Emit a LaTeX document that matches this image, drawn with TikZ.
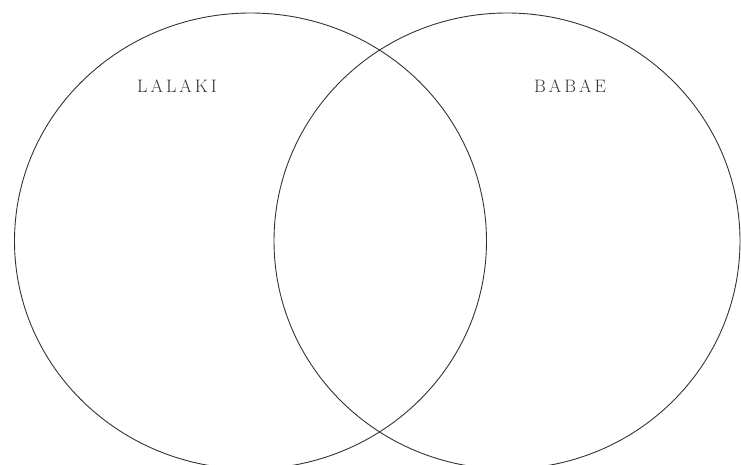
\documentclass[tikz,border=0pt]{standalone}
\usepackage{tikz}
\usetikzlibrary{shapes.geometric, positioning}
\tikzset{
  setshape/.style = {ellipse, draw=black!80, line width=0.9pt, inner sep=0pt,
    minimum width=472pt, minimum height=456pt},
  setlabel/.style = {font=\fontsize{18}{20}\selectfont, text=black!80, inner sep=0pt},
}
\begin{document}
\begin{tikzpicture}[x=1pt, y=-1pt]
  \useasboundingbox (0,0) rectangle (741,465);

  % Sets
  \node[setshape] (lalaki) at (250.5,241) {};
  \node[setshape, minimum width=466pt] (babae) at (507,241) {};

  % Labels
  \node[setlabel] (lalakitxt) at (177,86) {L\,A\,L\,A\,K\,I};
  \node[setlabel] (babaetxt) at (570,86) {B\,A\,B\,A\,E};

\end{tikzpicture}
\end{document}
